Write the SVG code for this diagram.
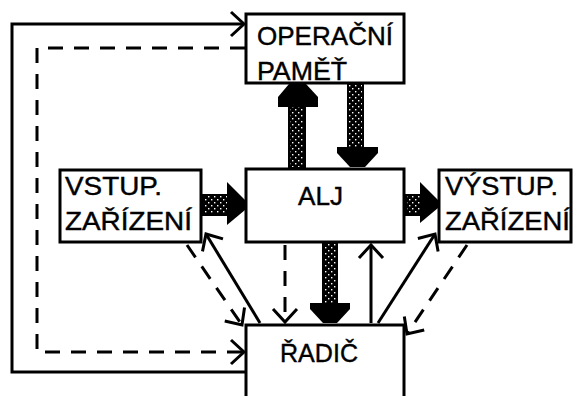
<svg xmlns="http://www.w3.org/2000/svg" width="575" height="396" viewBox="0 0 575 396">
<defs>
<pattern id="dots" width="6" height="6" patternUnits="userSpaceOnUse">
<rect width="6" height="6" fill="#000"/>
<rect x="1" y="1" width="1.4" height="1.4" fill="#fff"/>
<rect x="4" y="4" width="1.4" height="1.4" fill="#fff"/>
</pattern>
<marker id="open" markerUnits="userSpaceOnUse" markerWidth="30" markerHeight="30" refX="0" refY="0" viewBox="-15 -15 30 30" orient="auto" overflow="visible">
<path d="M-13,-12 L0,0 L-13,12" fill="none" stroke="#000" stroke-width="3"/>
</marker>
</defs>
<style>
.box{fill:#fff;stroke:#000;stroke-width:3}
.t{font-family:"Liberation Sans",Arial,sans-serif;font-size:25px;fill:#000;stroke:#000;stroke-width:0.4}
.ln{fill:none;stroke:#000;stroke-width:3}
.dash{stroke-dasharray:15 11}
.shaft{fill:url(#dots);stroke:#000;stroke-width:2}
.head{fill:#000;stroke:none}
</style>
<rect width="575" height="396" fill="#fff"/>
<g id="connectors">
<polyline class="ln" points="245,372 12,372 12,24 244,24" marker-end="url(#open)"/>
<polyline class="ln dash" points="245,48 37,48 37,352 244,352" marker-end="url(#open)"/>
<rect class="shaft" x="289" y="105" width="16" height="63"/>
<polygon class="head" points="289,84 306,84 318,97 318,107 278,107 278,97"/>
<rect class="shaft" x="348" y="84" width="15" height="65"/>
<polygon class="head" points="337,147 378,147 378,153 365,167 350,167 337,153"/>
<rect class="shaft" x="203" y="195" width="26" height="20"/>
<polygon class="head" points="227,182 245,200 245,210 227,225"/>
<rect class="shaft" x="406" y="195" width="16" height="20"/>
<polygon class="head" points="420,182 438,200 438,208 420,223"/>
<rect class="shaft" x="323" y="243" width="14" height="62"/>
<polygon class="head" points="310,303 350,303 350,309 337,323 323,323 310,309"/>
<line class="ln" x1="371" y1="323" x2="371" y2="245" marker-end="url(#open)"/>
<line class="ln dash" x1="285" y1="245" x2="285" y2="322" marker-end="url(#open)"/>
<line class="ln" x1="260" y1="323" x2="206" y2="234" marker-end="url(#open)"/>
<line class="ln dash" x1="187" y1="245" x2="242" y2="325" marker-end="url(#open)"/>
<line class="ln" x1="378" y1="323" x2="435" y2="234" marker-end="url(#open)"/>
<line class="ln dash" x1="467" y1="245" x2="407" y2="334" marker-end="url(#open)"/>
</g>
<g id="pamet">
<rect class="box" x="246" y="14" width="158" height="69"/>
<text class="t" x="257" y="45" textLength="136" lengthAdjust="spacingAndGlyphs">OPERAČNÍ</text>
<text class="t" x="257" y="80" textLength="90" lengthAdjust="spacingAndGlyphs">PAMĚŤ</text>
</g>
<g id="vstup">
<rect class="box" x="60" y="170" width="141" height="72"/>
<text class="t" x="65" y="195" textLength="97" lengthAdjust="spacingAndGlyphs">VSTUP.</text>
<text class="t" x="65" y="230" textLength="127" lengthAdjust="spacingAndGlyphs">ZAŘÍZENÍ</text>
</g>
<g id="alj">
<rect class="box" x="246" y="169" width="158" height="73"/>
<text class="t" x="298" y="205" textLength="45" lengthAdjust="spacingAndGlyphs">ALJ</text>
</g>
<g id="vystup">
<rect class="box" x="439" y="170" width="132" height="72"/>
<text class="t" x="445" y="195" textLength="113" lengthAdjust="spacingAndGlyphs">VÝSTUP.</text>
<text class="t" x="445" y="230" textLength="125" lengthAdjust="spacingAndGlyphs">ZAŘÍZENÍ</text>
</g>
<g id="radic">
<rect class="box" x="246" y="325" width="158" height="80"/>
<text class="t" x="280" y="362" textLength="78" lengthAdjust="spacingAndGlyphs">ŘADIČ</text>
</g>
</svg>
